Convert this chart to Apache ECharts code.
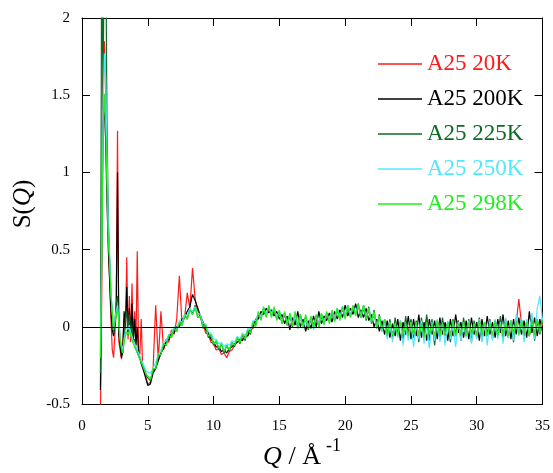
<!DOCTYPE html>
<html>
<head>
<meta charset="utf-8">
<script src="https://cdn.jsdelivr.net/npm/echarts@6/dist/echarts.min.js"></script>
<style>
html,body{margin:0;padding:0;background:#fff;}
#chart{width:553px;height:473px;}
</style>
</head>
<body>
<div id="chart"></div>
<script>
// Q grid (Å^-1)
var q = [
1.4,1.5,1.6,1.7,1.8,1.9,2.0,2.1,2.2,2.3,
2.4,2.5,2.6,2.7,2.8,2.9,3.0,3.1,3.2,3.3,
3.4,3.5,3.6,3.7,3.8,3.9,4.0,4.1,4.2,4.3,
4.4,4.5,4.6,4.7,4.8,4.9,5.0,
5.2,5.4,5.6,5.8,6.0,6.2,6.4,6.6,6.8,7.0,
7.2,7.4,7.6,7.8,8.0,8.2,8.4,8.6,8.8,9.0,
9.2,9.4,9.6,9.8,10.0,10.2,10.4,10.6,10.8,11.0,
11.2,11.4,11.6,11.8,12.0,12.2,12.4,12.6,12.8,13.0,
13.2,13.4,13.6,13.8,14.0,14.2,14.4,14.6,14.8,15.0,
15.2,15.4,15.6,15.8,16.0,16.2,16.4,16.6,16.8,17.0,
17.2,17.4,17.6,17.8,18.0,18.2,18.4,18.6,18.8,19.0,
19.2,19.4,19.6,19.8,20.0,20.2,20.4,20.6,20.8,21.0,
21.2,21.4,21.6,21.8,22.0,22.2,22.4,22.6,22.8,23.0,
23.2,23.4,23.6,23.8,24.0,24.2,24.4,24.6,24.8,25.0,
25.2,25.4,25.6,25.8,26.0,26.2,26.4,26.6,26.8,27.0,
27.2,27.4,27.6,27.8,28.0,28.2,28.4,28.6,28.8,29.0,
29.2,29.4,29.6,29.8,30.0,30.2,30.4,30.6,30.8,31.0,
31.2,31.4,31.6,31.8,32.0,32.2,32.4,32.6,32.8,33.0,
33.2,33.4,33.6,33.8,34.0,34.2,34.4,34.6,34.8,35.0
];

var s20K = [
-0.6,0.2,1.6,1.85,1.5,1.0,0.6,0.3,0.05,-0.15,
-0.2,-0.05,0.1,1.27,-0.1,-0.15,-0.21,-0.1,0.05,-0.05,
0.45,-0.08,0.2,-0.1,0.28,-0.08,0.1,-0.12,0.49,-0.15,
-0.18,0.05,-0.24,-0.27,-0.3,-0.34,-0.37,
-0.36,-0.28,0.14,-0.22,0.1,-0.15,-0.08,-0.1,-0.02,-0.05,
0.05,0.33,0.02,0.06,0.22,0.12,0.38,0.18,0.1,0.06,
0.02,-0.04,-0.05,-0.1,-0.11,-0.15,-0.14,-0.18,-0.17,-0.2,
-0.16,-0.15,-0.12,-0.1,-0.09,-0.08,-0.05,-0.06,-0.02,-0.01,
0.04,0.06,0.07,0.1,0.09,0.11,0.08,0.1,0.06,0.08,
0.05,0.07,0.03,0.06,0.02,0.05,0.01,0.05,0.02,0.04,
0.01,0.04,0.02,0.05,0.03,0.06,0.03,0.07,0.05,0.08,
0.06,0.1,0.07,0.11,0.07,0.12,0.08,0.12,0.09,0.13,
0.08,0.11,0.07,0.1,0.05,0.07,0.02,0.05,0.0,0.03,
-0.04,0.02,-0.05,0.01,-0.04,0.03,-0.06,0.02,-0.03,0.04,
-0.05,0.03,-0.06,0.02,-0.04,0.06,-0.05,0.02,-0.07,0.03,
-0.04,0.02,-0.06,0.03,-0.05,0.02,-0.04,0.04,-0.06,0.02,
-0.05,0.03,-0.04,0.02,-0.06,0.04,-0.05,0.02,-0.04,0.03,
-0.06,0.02,-0.04,0.03,-0.05,0.02,-0.06,0.03,-0.04,0.02,
0.18,0.02,-0.05,0.03,-0.06,0.04,-0.05,0.03,-0.04,0.02
];

var s200K = [
-0.41,0.5,1.3,1.42,1.2,0.8,0.5,0.3,0.1,-0.02,
-0.06,0.02,0.1,1.0,-0.05,-0.12,-0.2,-0.16,0.1,0.0,
0.26,-0.05,0.12,-0.06,0.15,-0.1,0.05,-0.12,0.0,-0.18,
-0.2,-0.24,-0.25,-0.29,-0.3,-0.35,-0.38,
-0.37,-0.3,-0.27,-0.22,-0.17,-0.14,-0.1,-0.08,-0.04,-0.04,
0.0,0.0,0.05,0.06,0.1,0.13,0.21,0.17,0.12,0.07,
0.03,-0.02,-0.04,-0.08,-0.1,-0.13,-0.13,-0.16,-0.15,-0.17,
-0.14,-0.13,-0.11,-0.1,-0.08,-0.09,-0.05,-0.06,-0.01,0.0,
0.05,0.05,0.1,0.08,0.12,0.09,0.11,0.07,0.1,0.05,
0.08,0.02,0.07,-0.02,0.06,0.01,0.1,0.0,0.05,-0.03,
0.04,-0.01,0.07,0.0,0.1,0.02,0.07,0.04,0.09,0.03,
0.1,0.05,0.11,0.06,0.14,0.07,0.12,0.08,0.15,0.06,
0.11,0.06,0.12,0.04,0.08,0.0,0.05,-0.03,0.04,-0.05,
0.04,-0.07,0.02,-0.06,0.05,-0.09,0.03,-0.05,0.07,-0.08,
0.05,-0.06,0.08,-0.07,0.03,-0.09,0.05,-0.05,0.04,-0.08,
0.06,-0.05,0.03,-0.09,0.05,-0.06,0.08,-0.04,0.03,-0.07,
0.04,-0.08,0.06,-0.05,0.03,-0.09,0.05,-0.06,0.07,-0.05,
0.03,-0.07,0.05,-0.04,0.08,-0.06,0.04,-0.08,0.05,-0.05,
0.06,-0.05,0.04,-0.07,0.1,-0.04,0.06,-0.06,0.05,-0.03
];

var s225K = [
-0.3,2.6,1.4,2.7,2.6,1.3,0.7,0.45,0.22,0.08,
-0.04,0.04,0.15,0.2,0.05,-0.08,-0.15,-0.17,-0.08,0.05,
0.1,-0.02,0.08,-0.05,0.0,-0.1,-0.08,-0.14,-0.14,-0.19,
-0.2,-0.23,-0.25,-0.27,-0.29,-0.32,-0.33,
-0.35,-0.28,-0.27,-0.19,-0.18,-0.11,-0.12,-0.05,-0.07,-0.01,
-0.03,0.03,0.01,0.08,0.05,0.12,0.08,0.14,0.06,0.07,
-0.01,0.01,-0.07,-0.05,-0.12,-0.09,-0.15,-0.11,-0.17,-0.12,
-0.16,-0.1,-0.13,-0.07,-0.11,-0.05,-0.09,-0.02,-0.05,0.03,
0.01,0.08,0.05,0.12,0.07,0.13,0.07,0.12,0.05,0.1,
0.02,0.09,0.01,0.08,0.0,0.07,-0.01,0.08,0.0,0.06,
-0.02,0.06,-0.01,0.07,0.0,0.08,0.02,0.09,0.03,0.1,
0.04,0.12,0.05,0.13,0.06,0.14,0.07,0.13,0.08,0.15,
0.06,0.14,0.04,0.13,0.02,0.11,-0.01,0.08,-0.03,0.05,
-0.06,0.05,-0.08,0.06,-0.05,0.04,-0.09,0.07,-0.06,0.05,
-0.07,0.04,-0.1,0.06,-0.06,0.08,-0.09,0.05,-0.12,0.04,
-0.08,0.06,-0.05,0.03,-0.1,0.05,-0.06,0.04,-0.09,0.06,
-0.06,0.05,-0.1,0.04,-0.07,0.06,-0.09,0.03,-0.06,0.05,
-0.08,0.04,-0.06,0.07,-0.09,0.05,-0.07,0.04,-0.1,0.06,
-0.05,0.05,-0.08,0.04,-0.06,0.07,-0.09,0.05,-0.05,0.06
];

var s250K = [
-0.18,0.5,1.4,1.77,1.6,1.1,0.65,0.45,0.25,0.1,
0.0,0.05,0.1,0.14,0.03,-0.07,-0.12,-0.15,-0.08,-0.03,
0.0,-0.02,0.01,-0.04,-0.05,-0.09,-0.1,-0.13,-0.14,-0.17,
-0.18,-0.21,-0.22,-0.25,-0.26,-0.29,-0.3,
-0.3,-0.27,-0.23,-0.18,-0.15,-0.1,-0.09,-0.05,-0.04,0.0,
-0.01,0.04,0.03,0.08,0.07,0.12,0.1,0.13,0.09,0.08,
0.02,0.02,-0.03,-0.04,-0.08,-0.08,-0.11,-0.1,-0.13,-0.11,
-0.12,-0.09,-0.1,-0.06,-0.08,-0.04,-0.06,-0.01,-0.02,0.04,
0.04,0.09,0.06,0.12,0.08,0.13,0.08,0.12,0.06,0.1,
0.03,0.09,0.02,0.08,0.01,0.07,0.0,0.06,-0.01,0.05,
0.0,0.06,-0.02,0.07,0.02,0.08,0.03,0.09,0.04,0.1,
0.05,0.12,0.06,0.13,0.07,0.14,0.08,0.13,0.09,0.14,
0.07,0.13,0.06,0.12,0.03,0.09,0.0,0.06,-0.03,0.03,
-0.08,0.03,-0.1,0.02,-0.07,0.04,-0.12,0.01,-0.09,0.03,
-0.13,0.02,-0.08,0.04,-0.11,0.01,-0.14,0.03,-0.09,0.05,
-0.1,0.02,-0.12,0.04,-0.08,0.01,-0.13,0.03,-0.09,0.02,
-0.07,0.04,-0.11,0.02,-0.08,0.05,-0.1,0.03,-0.12,0.04,
-0.09,0.05,-0.08,0.03,-0.11,0.06,-0.07,0.04,-0.09,0.08,
-0.06,0.06,-0.1,0.05,-0.05,0.09,-0.08,0.12,0.2,0.04
];

var s298K = [
-0.2,0.4,1.2,1.51,1.3,0.9,0.55,0.42,0.2,0.1,
-0.02,0.03,0.07,0.12,0.01,-0.09,-0.14,-0.17,-0.1,-0.06,
-0.03,-0.05,-0.02,-0.06,-0.07,-0.11,-0.11,-0.15,-0.15,-0.19,
-0.19,-0.23,-0.23,-0.27,-0.27,-0.31,-0.31,
-0.34,-0.27,-0.27,-0.18,-0.18,-0.11,-0.12,-0.05,-0.07,-0.01,
-0.03,0.03,0.01,0.07,0.05,0.11,0.08,0.12,0.06,0.07,
0.0,0.01,-0.06,-0.05,-0.11,-0.09,-0.14,-0.11,-0.16,-0.12,
-0.15,-0.1,-0.12,-0.07,-0.1,-0.05,-0.08,-0.02,-0.04,0.03,
0.0,0.1,0.04,0.13,0.06,0.14,0.06,0.13,0.04,0.11,
0.02,0.1,0.01,0.09,0.01,0.1,0.0,0.08,0.0,0.08,
-0.01,0.07,-0.01,0.08,0.0,0.09,0.01,0.1,0.02,0.11,
0.03,0.12,0.04,0.13,0.05,0.14,0.06,0.14,0.07,0.15,
0.06,0.14,0.05,0.12,0.03,0.1,0.0,0.07,-0.02,0.05,
-0.06,0.03,-0.05,0.02,-0.06,0.03,-0.05,0.02,-0.06,0.03,
-0.05,0.03,-0.06,0.02,-0.07,0.03,-0.05,0.02,-0.06,0.04,
-0.06,0.02,-0.05,0.03,-0.06,0.04,-0.06,0.02,-0.05,0.03,
-0.06,0.03,-0.05,0.02,-0.06,0.04,-0.05,0.03,-0.06,0.02,
-0.05,0.04,-0.06,0.02,-0.05,0.03,-0.06,0.04,-0.05,0.03,
-0.05,0.04,-0.04,0.03,-0.06,0.04,-0.05,0.05,-0.04,0.04
];

var names = ['A25 20K','A25 200K','A25 225K','A25 250K','A25 298K'];
var colors = ['#ff1a1a','#000000','#0d6b26','#55e6ff','#22ee22'];
var values = [s20K, s200K, s225K, s250K, s298K];

var FONT = '"Liberation Serif","Times New Roman",serif';

function pairs(ys){
  var out = [];
  for (var i = 0; i < q.length; i++) out.push([q[i], ys[i]]);
  return out;
}

var series = names.map(function(n, i){
  var s = {
    name: n, type: 'line', data: pairs(values[i]),
    xAxisIndex: 0, yAxisIndex: 0,
    showSymbol: false, symbol: 'none', sampling: 'none',
    lineStyle: {color: colors[i], width: 1.2},
    itemStyle: {color: colors[i]},
    emphasis: {disabled: true},
    animation: false, clip: true
  };
  if (i === names.length - 1) {
    s.markLine = {
      silent: true, symbol: 'none', animation: false,
      label: {show: false},
      lineStyle: {color: '#000', width: 1, type: 'solid'},
      data: [{yAxis: 0}]
    };
  }
  return s;
});

var axisCommon = {
  axisLine: {show: true, onZero: false, lineStyle: {color: '#000', width: 1}},
  axisTick: {show: true, inside: true, length: 8, lineStyle: {color: '#000', width: 1}},
  splitLine: {show: false}
};

var option = {
  backgroundColor: '#fff',
  animation: false,
  grid: {left: 82, right: 9, top: 18, bottom: 69, containLabel: false},
  xAxis: [
    Object.assign({type: 'value', min: 0, max: 35, interval: 5, position: 'bottom',
      axisLabel: {color: '#000', fontFamily: FONT, fontSize: 15, margin: 15}}, axisCommon),
    Object.assign({type: 'value', min: 0, max: 35, interval: 5, position: 'top',
      axisLabel: {show: false}}, axisCommon)
  ],
  yAxis: [
    Object.assign({type: 'value', min: -0.5, max: 2, interval: 0.5, position: 'left',
      axisLabel: {color: '#000', fontFamily: FONT, fontSize: 15, margin: 12}}, axisCommon),
    Object.assign({type: 'value', min: -0.5, max: 2, interval: 0.5, position: 'right',
      axisLabel: {show: false}}, axisCommon)
  ],
  legend: {
    orient: 'vertical', left: 373, top: 47,
    itemWidth: 44, itemHeight: 1.5, itemGap: 11, icon: 'rect',
    selectedMode: false,
    textStyle: {fontFamily: FONT, fontSize: 23, lineHeight: 24},
    data: names.map(function(n, i){ return {name: n, textStyle: {color: colors[i]}}; })
  },
  graphic: [
    {type: 'text', left: 263, top: 444, silent: true,
      style: {text: 'Q', font: 'italic 26px ' + FONT, fill: '#000'}},
    {type: 'text', left: 282, top: 444, silent: true,
      style: {text: ' / Å', font: '26px ' + FONT, fill: '#000'}},
    {type: 'text', left: 326, top: 437, silent: true,
      style: {text: '-1', font: '18px ' + FONT, fill: '#000'}},
    {type: 'text', x: 23, y: 204, rotation: Math.PI / 2, silent: true,
      style: {
        text: '{n|S(}{i|Q}{n|)}', align: 'center', verticalAlign: 'middle',
        rich: {
          n: {fontFamily: FONT, fontSize: 25, fill: '#000', color: '#000'},
          i: {fontFamily: FONT, fontSize: 25, fontStyle: 'italic', fill: '#000', color: '#000'}
        }
      }}
  ],
  series: series
};

var chart = echarts.init(document.getElementById('chart'), null, {renderer: 'canvas'});
chart.setOption(option);
</script>
</body>
</html>
